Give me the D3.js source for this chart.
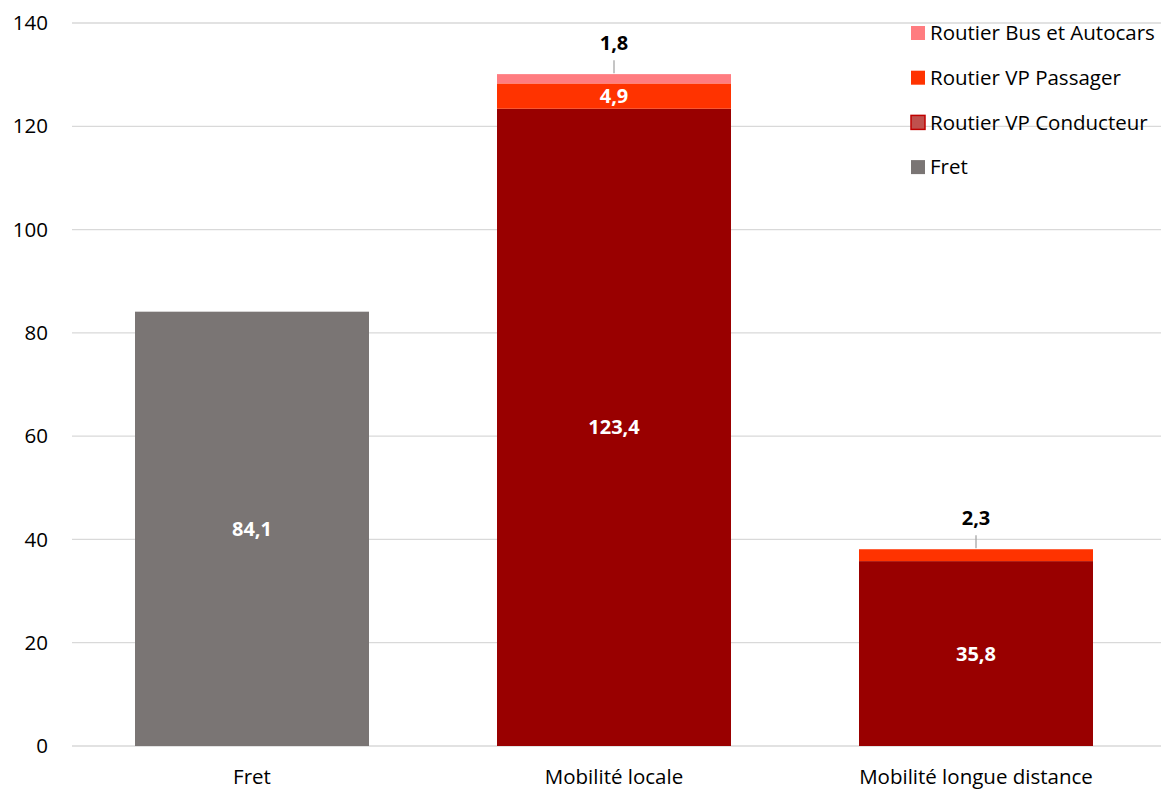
<!DOCTYPE html>
<html>
<head>
<meta charset="utf-8">
<script src="https://cdn.jsdelivr.net/npm/d3@7"></script>
<style>
  body { margin: 0; background: #fff; }
  text { font-family: "Open Sans", "Liberation Sans", sans-serif; }
</style>
</head>
<body>
<div id="chart"></div>
<script>
// categories and series
const categories = ["Fret", "Mobilité locale", "Mobilité longue distance"];
const seriesNames = ["Fret", "Routier VP Conducteur", "Routier VP Passager", "Routier Bus et Autocars"];
const fretValues = [84.1, 0, 0];
const conducteurValues = [0, 123.4, 35.8];
const passagerValues = [0, 4.9, 2.3];
const busValues = [0, 1.8, 0];
const yTicks = [0, 20, 40, 60, 80, 100, 120, 140];

const colors = {
    "Fret": "#7a7574",
    "Routier VP Conducteur": "#990000",
    "Routier VP Passager": "#ff3300",
    "Routier Bus et Autocars": "#ff7c80"
};

const width = 1161, height = 789;
const margin = { top: 23, right: 0, bottom: 43, left: 72 };

const rows = categories.map((c, i) => ({
    cat: c,
    "Fret": fretValues[i],
    "Routier VP Conducteur": conducteurValues[i],
    "Routier VP Passager": passagerValues[i],
    "Routier Bus et Autocars": busValues[i]
}));

const svg = d3.select("#chart").append("svg")
    .attr("width", width).attr("height", height);

const x = d3.scaleBand().domain(categories)
    .range([71, 1157])
    .paddingInner(0.3536).paddingOuter(0.1768);
const y = d3.scaleLinear().domain([0, 140]).range([height - margin.bottom, margin.top]);

// gridlines
svg.append("g").selectAll("line").data(yTicks).enter().append("line")
    .attr("x1", margin.left).attr("x2", width - margin.right)
    .attr("y1", d => y(d)).attr("y2", d => y(d))
    .attr("stroke", "#d9d9d9").attr("stroke-width", 1.3);

// y tick labels
svg.append("g").selectAll("text").data(yTicks).enter().append("text")
    .attr("x", 48).attr("y", d => y(d)).attr("dy", "0.35em")
    .attr("text-anchor", "end")
    .style("font-size", "20.5px").attr("fill", "#000")
    .text(d => d);

// stacked bars
const stack = d3.stack().keys(seriesNames)(rows);

const layers = svg.append("g").selectAll("g").data(stack).enter().append("g")
    .attr("fill", d => colors[d.key]);

layers.selectAll("rect").data(d => d.filter(s => s[1] - s[0] > 0)).enter().append("rect")
    .attr("x", d => x(d.data.cat))
    .attr("width", x.bandwidth())
    .attr("y", d => y(d[1]))
    .attr("height", d => y(d[0]) - y(d[1]));

// value labels
const fmt = v => d3.format(".1f")(v).replace(".", ",");
stack.forEach(layer => {
    layer.forEach(s => {
        const v = s[1] - s[0];
        if (v <= 0) return;
        const cx = x(s.data.cat) + x.bandwidth() / 2;
        const segH = y(s[0]) - y(s[1]);
        if (segH >= 20) {
            svg.append("text")
                .attr("x", cx).attr("y", (y(s[0]) + y(s[1])) / 2)
                .attr("dy", "0.35em").attr("text-anchor", "middle")
                .attr("fill", "#fff").style("font-size", "20px").style("font-weight", "bold")
                .text(fmt(v));
        } else {
            const top = y(s[1]);
            svg.append("line")
                .attr("x1", cx).attr("x2", cx)
                .attr("y1", top - 1).attr("y2", top - 14)
                .attr("stroke", "#a6a6a6").attr("stroke-width", 1.3);
            svg.append("text")
                .attr("x", cx).attr("y", top - 31)
                .attr("dy", "0.35em").attr("text-anchor", "middle")
                .attr("fill", "#000").style("font-size", "20px").style("font-weight", "bold")
                .text(fmt(v));
        }
    });
});

// x category labels
svg.append("g").selectAll("text").data(categories).enter().append("text")
    .attr("x", d => x(d) + x.bandwidth() / 2).attr("y", 777)
    .attr("dy", "0.35em").attr("text-anchor", "middle")
    .style("font-size", "20.5px").attr("fill", "#000")
    .text(d => d);

// legend
const legendItems = ["Routier Bus et Autocars", "Routier VP Passager", "Routier VP Conducteur", "Fret"];
const legend = svg.append("g").selectAll("g").data(legendItems).enter().append("g")
    .attr("transform", (d, i) => `translate(911, ${33 + i * 44.7})`);

legend.append("rect")
    .attr("x", 0).attr("y", -7).attr("width", 14).attr("height", 14)
    .attr("fill", d => d === "Routier VP Conducteur" ? "#c0504d" : colors[d])
    .attr("stroke", d => d === "Routier VP Conducteur" ? "#c00000" : "none")
    .attr("stroke-width", 1.5);

legend.append("text")
    .attr("x", 19).attr("y", 0).attr("dy", "0.35em")
    .style("font-size", "20.5px").attr("fill", "#000")
    .text(d => d);
</script>
</body>
</html>
